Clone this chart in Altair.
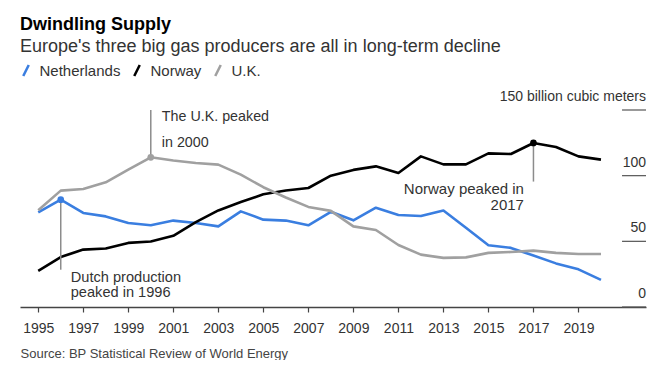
import altair as alt
import pandas as pd

FONT = "Liberation Sans"

years = list(range(1995, 2021))
netherlands = [72.1, 81.7, 71.6, 69.0, 64.0, 62.2, 65.8, 64.0, 61.4, 72.8,
               66.5, 65.8, 62.2, 72.5, 66.0, 75.6, 70.0, 69.3, 73.5, 60.3,
               47.0, 45.0, 39.2, 33.2, 28.7, 20.6]
norway = [27.5, 38.0, 43.7, 44.6, 48.8, 49.9, 54.2, 64.6, 73.5, 79.9,
          85.8, 88.7, 90.6, 100.0, 104.4, 107.1, 102.0, 114.7, 108.6, 108.6,
          117.0, 116.5, 124.9, 121.8, 114.7, 112.2]
uk = [73.6, 88.6, 89.9, 94.9, 104.6, 114.0, 111.5, 109.6, 108.4, 100.8,
      91.2, 83.4, 76.2, 73.2, 61.4, 58.6, 47.2, 39.9, 37.4, 37.8,
      41.2, 41.9, 42.9, 41.2, 40.4, 40.4]

countries = ["Netherlands", "Norway", "U.K."]
colors = ["#3a7ee0", "#000000", "#a0a0a0"]

x_domain = [1994.19, 2022.0]
x_ticks = list(range(1995, 2020, 2))
y_ticks = [0, 50, 100, 150]
y_tick_labels = ["0", "50", "100", "150 billion cubic meters"]
y_stub_start = 2020.935   # short tick marks under the right-hand value labels

# peaks and their callout rules
peak_countries = ["Netherlands", "U.K.", "Norway"]
peak_years = [1996, 2000, 2017]
rule_ends = [28.4, 150.0, 95.5]

uk_note = ["The U.K. peaked", "in 2000"]
uk_note_y = [141.9, 122.1]
dutch_note = ["Dutch production", "peaked in 1996"]
dutch_note_y = [19.3, 7.9]
norway_note = ["Norway peaked in", "2017"]
norway_note_y = [86.2, 73.5]

source = "Source: BP Statistical Review of World Energy"

series = {"Netherlands": netherlands, "Norway": norway, "U.K.": uk}
rows = []
for c in countries:
    for yr, v in zip(years, series[c]):
        rows.append({"year": yr, "country": c, "value": v})
df = pd.DataFrame(rows)

cmap = dict(zip(countries, colors))
peaks = pd.DataFrame({
    "year": peak_years,
    "country": peak_countries,
    "value": [series[c][years.index(y)] for c, y in zip(peak_countries, peak_years)],
    "end": rule_ends,
    "color": [cmap[c] for c in peak_countries],
})
yticks_df = pd.DataFrame({
    "x1": [y_stub_start] * len(y_ticks),
    "x2": [x_domain[1]] * len(y_ticks),
    "value": y_ticks,
    "label": y_tick_labels,
})

x_scale = alt.Scale(domain=x_domain, nice=False, zero=False)
y_scale = alt.Scale(domain=[0, 150], nice=False)

x_axis = alt.Axis(
    values=x_ticks, format="d", grid=False,
    domainColor="#444", domainWidth=1.5, tickColor="#444", tickWidth=1.2, tickSize=5,
    labelFontSize=14, labelColor="#333", labelPadding=9, labelFont=FONT,
    title=source, titleX=0, titleY=50, titleAlign="left", titleBaseline="alphabetic",
    titleFontSize=13, titleFontWeight="normal", titleColor="#444", titleFont=FONT,
)

base = alt.Chart(df)
lines = base.mark_line(strokeWidth=2.6, strokeJoin="round").encode(
    x=alt.X("year:Q", scale=x_scale, axis=x_axis),
    y=alt.Y("value:Q", scale=y_scale, axis=None),
    color=alt.Color(
        "country:N",
        scale=alt.Scale(domain=countries, range=colors),
        legend=alt.Legend(
            title=None, orient="none", direction="horizontal",
            legendX=-1.5, legendY=-47,
            symbolType="M-0.5,1L0.5,-1", symbolSize=121, symbolStrokeWidth=2.5,
            labelFontSize=15, labelColor="#333", labelFont=FONT,
            labelOffset=6, columnPadding=8,
        ),
    ),
)

tick_stubs = alt.Chart(yticks_df).mark_rule(color="#555", strokeWidth=1.2).encode(
    x="x1:Q", x2="x2:Q", y="value:Q"
)
tick_labels = alt.Chart(yticks_df).mark_text(
    align="right", baseline="alphabetic", dy=-9, fontSize=14, font=FONT, color="#333"
).encode(x="x2:Q", y="value:Q", text="label:N")

rules = alt.Chart(peaks).mark_rule(color="#8c8c8c", strokeWidth=1.5).encode(
    x="year:Q", y="value:Q", y2="end:Q"
)
dots = alt.Chart(peaks).mark_circle(size=45, opacity=1).encode(
    x="year:Q", y="value:Q", color=alt.Color("color:N", scale=None)
)

def note(texts, ys, yr, align, dx, size):
    d = pd.DataFrame({"year": [yr] * len(texts), "value": ys, "text": texts})
    return alt.Chart(d).mark_text(
        align=align, baseline="alphabetic", dx=dx, fontSize=size, font=FONT, color="#333"
    ).encode(x="year:Q", y="value:Q", text="text:N")

notes = [
    note(uk_note, uk_note_y, 2000, "left", 11, 14.3),
    note(dutch_note, dutch_note_y, 1996, "left", 10, 14.6),
    note(norway_note, norway_note_y, 2017, "right", -9.5, 15),
]

chart = alt.layer(lines, tick_stubs, tick_labels, rules, dots, *notes).properties(
    width=626, height=197,
    background="white",
    autosize=alt.AutoSizeParams(type="none"),
    padding={"left": 12, "top": 102, "right": 4, "bottom": 53},
    title=alt.Title(
        "Dwindling Supply",
        subtitle="Europe's three big gas producers are all in long-term decline",
        anchor="start", frame="group", offset=7,
        font=FONT, fontSize=18, fontWeight="bold", color="#000",
        subtitleFont=FONT, subtitleFontSize=18, subtitleColor="#333", subtitlePadding=4,
    ),
).configure_view(stroke=None, strokeWidth=0)

chart.save("out.html", embed_options={"renderer": "svg", "actions": False})
